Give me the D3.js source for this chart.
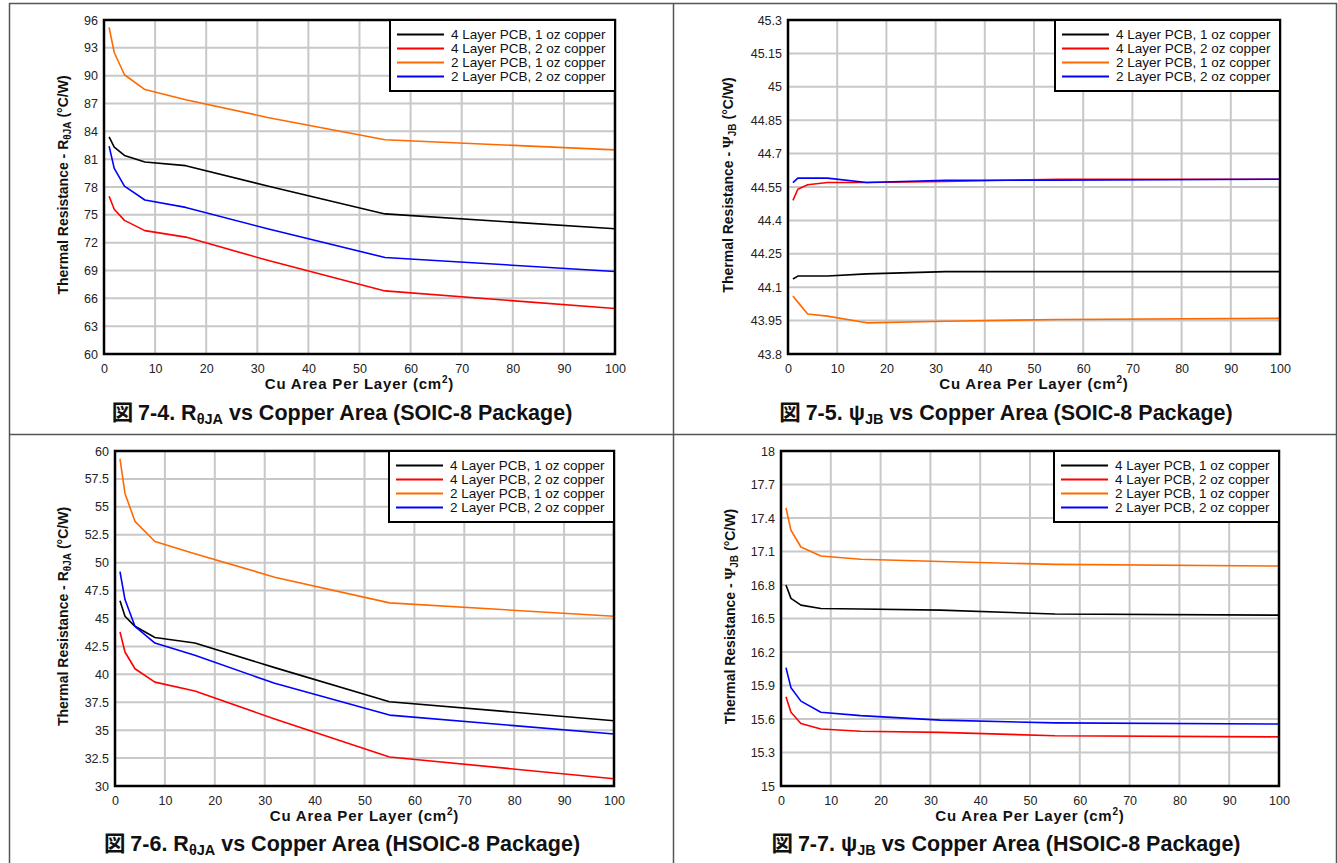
<!DOCTYPE html>
<html>
<head>
<meta charset="utf-8">
<script src="https://cdn.jsdelivr.net/npm/d3@7"></script>
<style>
  body { margin: 0; background: #fff; }
  svg { display: block; font-family: "Liberation Sans", Arial, sans-serif; }
</style>
</head>
<body>
<div id="chart"></div>
<script>
// Cu area per layer (cm2) - same x points for every curve
const cuArea = [1, 2, 4, 8, 16, 32, 55, 100];
const seriesNames = ["4 Layer PCB, 1 oz copper", "4 Layer PCB, 2 oz copper",
                     "2 Layer PCB, 1 oz copper", "2 Layer PCB, 2 oz copper"];
const xTicks = [0, 10, 20, 30, 40, 50, 60, 70, 80, 90, 100];

// 7-4 RθJA, SOIC-8
const soicRja4L1oz = [83.4, 82.3, 81.4, 80.7, 80.3, 78.1, 75.1, 73.5];
const soicRja4L2oz = [77.0, 75.6, 74.4, 73.3, 72.6, 70.1, 66.8, 64.9];
const soicRja2L1oz = [95.2, 92.5, 90.1, 88.5, 87.4, 85.5, 83.1, 82.0];
const soicRja2L2oz = [82.4, 80.0, 78.1, 76.6, 75.8, 73.5, 70.4, 68.9];
const soicRjaTicks = [60, 63, 66, 69, 72, 75, 78, 81, 84, 87, 90, 93, 96];

// 7-5 ψJB, SOIC-8
const soicPsi4L1oz = [44.137, 44.15, 44.15, 44.15, 44.16, 44.17, 44.17, 44.17];
const soicPsi4L2oz = [44.49, 44.54, 44.56, 44.57, 44.57, 44.575, 44.585, 44.585];
const soicPsi2L1oz = [44.06, 44.033, 43.98, 43.97, 43.94, 43.947, 43.955, 43.96];
const soicPsi2L2oz = [44.57, 44.59, 44.59, 44.59, 44.57, 44.58, 44.58, 44.585];
const soicPsiTicks = [43.8, 43.95, 44.1, 44.25, 44.4, 44.55, 44.7, 44.85, 45, 45.15, 45.3];

// 7-6 RθJA, HSOIC-8
const hsoicRja4L1oz = [46.6, 45.2, 44.3, 43.3, 42.8, 40.6, 37.55, 35.85];
const hsoicRja4L2oz = [43.8, 42.0, 40.5, 39.3, 38.5, 36.0, 32.6, 30.65];
const hsoicRja2L1oz = [59.3, 56.2, 53.7, 51.9, 50.8, 48.7, 46.4, 45.2];
const hsoicRja2L2oz = [49.2, 46.7, 44.3, 42.8, 41.7, 39.2, 36.35, 34.65];
const hsoicRjaTicks = [30, 32.5, 35, 37.5, 40, 42.5, 45, 47.5, 50, 52.5, 55, 57.5, 60];

// 7-7 ψJB, HSOIC-8
const hsoicPsi4L1oz = [16.80, 16.68, 16.62, 16.59, 16.585, 16.575, 16.54, 16.53];
const hsoicPsi4L2oz = [15.80, 15.66, 15.56, 15.51, 15.49, 15.48, 15.45, 15.44];
const hsoicPsi2L1oz = [17.49, 17.29, 17.14, 17.06, 17.03, 17.01, 16.985, 16.97];
const hsoicPsi2L2oz = [16.06, 15.88, 15.76, 15.66, 15.63, 15.59, 15.565, 15.555];
const hsoicPsiTicks = [15, 15.3, 15.6, 15.9, 16.2, 16.5, 16.8, 17.1, 17.4, 17.7, 18];

const lineColors = ["#000000", "#ff0000", "#ff6a00", "#0000ff"];

const width = 1338, height = 863;
const svg = d3.select("#chart").append("svg")
    .attr("width", width)
    .attr("height", height);

// panel frame lines
const frame = svg.append("g").attr("stroke", "#555").attr("stroke-width", 1.5);
frame.append("line").attr("x1", 9).attr("x2", 1337).attr("y1", 3.5).attr("y2", 3.5);
frame.append("line").attr("x1", 9.5).attr("x2", 9.5).attr("y1", 3).attr("y2", height);
frame.append("line").attr("x1", 673.5).attr("x2", 673.5).attr("y1", 3).attr("y2", height);
frame.append("line").attr("x1", 1336.5).attr("x2", 1336.5).attr("y1", 3).attr("y2", height);
frame.append("line").attr("x1", 9).attr("x2", 1337).attr("y1", 434.5).attr("y2", 434.5);

function drawPanel(cfg) {
    const g = svg.append("g");
    const x = d3.scaleLinear().domain([0, 100]).range([cfg.left, cfg.right]);
    const y = d3.scaleLinear().domain(d3.extent(cfg.yTicks)).range([cfg.bottom, cfg.top]);

    // grid
    g.append("g").selectAll("line").data(xTicks.slice(1, -1)).enter().append("line")
        .attr("x1", d => x(d)).attr("x2", d => x(d))
        .attr("y1", cfg.top).attr("y2", cfg.bottom)
        .attr("stroke", "#c8c8c8").attr("stroke-width", 2);
    g.append("g").selectAll("line").data(cfg.yTicks.slice(1, -1)).enter().append("line")
        .attr("x1", cfg.left).attr("x2", cfg.right)
        .attr("y1", d => y(d)).attr("y2", d => y(d))
        .attr("stroke", "#c8c8c8").attr("stroke-width", 2);

    // axes (labels only)
    const xAxis = g.append("g")
        .attr("transform", `translate(0,${cfg.bottom})`)
        .call(d3.axisBottom(x).tickValues(xTicks).tickSize(0).tickPadding(10));
    const yAxis = g.append("g")
        .attr("transform", `translate(${cfg.left},0)`)
        .call(d3.axisLeft(y).tickValues(cfg.yTicks).tickSize(0).tickPadding(6).tickFormat(d => String(d)));
    [xAxis, yAxis].forEach(a => {
        a.select(".domain").remove();
        a.selectAll("text").attr("font-size", "12.5px").attr("fill", "#222")
            .attr("font-family", "'Liberation Sans', Arial, sans-serif");
    });

    // curves
    const line = d3.line().x((d, i) => x(cuArea[i])).y(d => y(d));
    g.append("g").selectAll("path").data(cfg.series).enter().append("path")
        .attr("d", d => line(d))
        .attr("fill", "none")
        .attr("stroke", (d, i) => lineColors[i])
        .attr("stroke-width", 1.6)
        .attr("stroke-linejoin", "round");

    // plot border
    g.append("rect")
        .attr("x", cfg.left).attr("y", cfg.top)
        .attr("width", cfg.right - cfg.left).attr("height", cfg.bottom - cfg.top)
        .attr("fill", "none").attr("stroke", "#000").attr("stroke-width", 2.5);

    // legend
    const lw = 225, lh = 71;
    const leg = g.append("g").attr("transform", `translate(${cfg.right - lw},${cfg.top})`);
    leg.append("rect").attr("width", lw).attr("height", lh)
        .attr("fill", "#fff").attr("stroke", "#000").attr("stroke-width", 2);
    seriesNames.forEach((name, i) => {
        const ry = 14.5 + i * 14;
        leg.append("line").attr("x1", 7).attr("x2", 54).attr("y1", ry).attr("y2", ry)
            .attr("stroke", lineColors[i]).attr("stroke-width", 2);
        leg.append("text").attr("x", 61).attr("y", ry).attr("dy", "0.35em")
            .attr("font-size", "13.5px").attr("fill", "#111").text(name);
    });

    // y label
    const yl = g.append("text")
        .attr("transform", `translate(${cfg.yLabelX},${(cfg.top + cfg.bottom) / 2 - 2}) rotate(-90)`)
        .attr("text-anchor", "middle").attr("font-weight", "bold").attr("font-size", "14px")
        .attr("fill", "#111");
    yl.append("tspan").text("Thermal Resistance - ");
    if (cfg.kind === "rja") {
        yl.append("tspan").text("R");
        yl.append("tspan").attr("font-size", "10px").attr("dy", 3).text("θJA");
        yl.append("tspan").attr("dy", -3).text(" (°C/W)");
    } else {
        yl.append("tspan").attr("font-family", "'Liberation Serif', serif").attr("font-size", "15px").text("Ψ");
        yl.append("tspan").attr("font-size", "10px").attr("dy", 3).text("JB");
        yl.append("tspan").attr("dy", -3).text(" (°C/W)");
    }

    // x label
    const xl = g.append("text")
        .attr("x", (cfg.left + cfg.right) / 2).attr("y", cfg.bottom + 35)
        .attr("text-anchor", "middle").attr("font-weight", "bold").attr("font-size", "15px")
        .attr("letter-spacing", "0.8px")
        .attr("fill", "#111");
    xl.append("tspan").text("Cu Area Per Layer (cm");
    xl.append("tspan").attr("font-size", "10px").attr("dy", -6).text("2");
    xl.append("tspan").attr("dy", 6).text(")");

    // caption
    const cap = g.append("text")
        .attr("x", cfg.capX).attr("y", cfg.capY)
        .attr("text-anchor", "middle").attr("font-weight", "bold").attr("font-size", "21.5px")
        .attr("fill", "#111");
    cap.append("tspan").attr("font-family", "'Noto Sans CJK JP', sans-serif").text("図 ");
    cap.append("tspan").text(cfg.figNo + ". ");
    if (cfg.kind === "rja") {
        cap.append("tspan").text("R");
        cap.append("tspan").attr("font-size", "14.5px").attr("dy", 4).text("θJA");
    } else {
        cap.append("tspan").text("ψ");
        cap.append("tspan").attr("font-size", "14.5px").attr("dy", 4).text("JB");
    }
    cap.append("tspan").attr("dy", -4).text(" vs Copper Area (" + cfg.pkg + " Package)");
}

drawPanel({ left: 104, right: 615, top: 20, bottom: 354, yTicks: soicRjaTicks, kind: "rja",
    series: [soicRja4L1oz, soicRja4L2oz, soicRja2L1oz, soicRja2L2oz],
    yLabelX: 68, capX: 342, capY: 420, figNo: "7-4", pkg: "SOIC-8" });
drawPanel({ left: 788, right: 1280, top: 20, bottom: 354, yTicks: soicPsiTicks, kind: "psi",
    series: [soicPsi4L1oz, soicPsi4L2oz, soicPsi2L1oz, soicPsi2L2oz],
    yLabelX: 733, capX: 1006, capY: 420, figNo: "7-5", pkg: "SOIC-8" });
drawPanel({ left: 115, right: 614, top: 451, bottom: 786, yTicks: hsoicRjaTicks, kind: "rja",
    series: [hsoicRja4L1oz, hsoicRja4L2oz, hsoicRja2L1oz, hsoicRja2L2oz],
    yLabelX: 68, capX: 342, capY: 851, figNo: "7-6", pkg: "HSOIC-8" });
drawPanel({ left: 781, right: 1279, top: 451, bottom: 786, yTicks: hsoicPsiTicks, kind: "psi",
    series: [hsoicPsi4L1oz, hsoicPsi4L2oz, hsoicPsi2L1oz, hsoicPsi2L2oz],
    yLabelX: 735, capX: 1006, capY: 851, figNo: "7-7", pkg: "HSOIC-8" });
</script>
</body>
</html>
